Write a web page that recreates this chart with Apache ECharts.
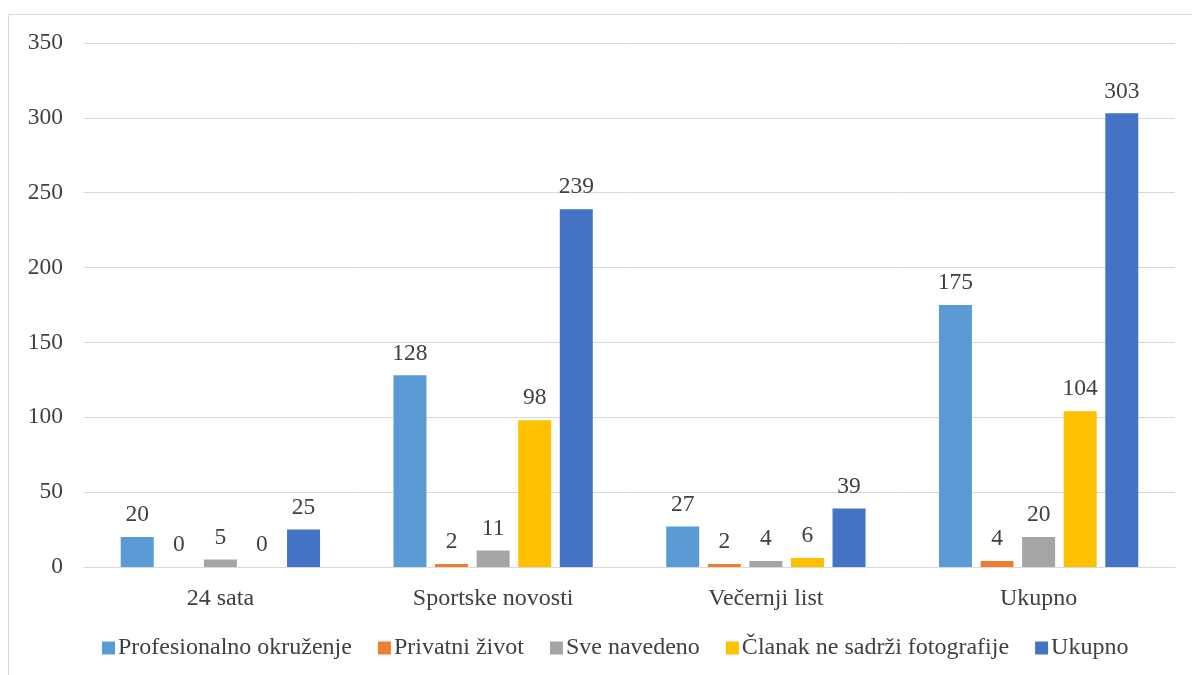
<!DOCTYPE html>
<html><head><meta charset="utf-8">
<script src="https://cdn.jsdelivr.net/npm/echarts@6/dist/echarts.min.js"></script>
<style>html,body{margin:0;padding:0;background:#fff}#c{width:1192px;height:675px}</style>
</head><body><div id="c"></div>
<script>
const categories = ['24 sata', 'Sportske novosti', 'Večernji list', 'Ukupno'];
const seriesNames = ['Profesionalno okruženje', 'Privatni život', 'Sve navedeno', 'Članak ne sadrži fotografije', 'Ukupno'];
const profesionalno = [20, 128, 27, 175];
const privatni = [0, 2, 2, 4];
const sveNavedeno = [5, 11, 4, 20];
const clanak = [0, 98, 6, 104];
const ukupno = [25, 239, 39, 303];
const yTicks = { min: 0, max: 350, interval: 50 };
const colors = ['#5B9BD5', '#ED7D31', '#A5A5A5', '#FFC000', '#4472C4'];
const values = [profesionalno, privatni, sveNavedeno, clanak, ukupno];
const font = '"Liberation Serif", "Times New Roman", serif';
const chart = echarts.init(document.getElementById('c'));
chart.setOption({
  animation: false,
  textStyle: { fontFamily: font },
  graphic: [{ type: 'rect', shape: { x: 8.5, y: 14.5, width: 1300, height: 800 }, style: { fill: 'none', stroke: '#d9d9d9', lineWidth: 1 }, silent: true }],
  grid: { left: 84, right: 17, top: 43, bottom: 108, containLabel: false },
  legend: {
    top: 631, left: 97, itemWidth: 13, itemHeight: 13, itemGap: 26, icon: 'rect',
    textStyle: { fontFamily: font, fontSize: 24, color: '#404040', padding: [0, 0, 0, -2] },
    data: seriesNames
  },
  xAxis: {
    type: 'category', data: categories,
    axisLine: { lineStyle: { color: '#d9d9d9' } }, axisTick: { show: false },
    axisLabel: { fontFamily: font, fontSize: 24, color: '#404040', margin: 20 }
  },
  yAxis: {
    type: 'value', min: yTicks.min, max: yTicks.max, interval: yTicks.interval,
    axisLine: { show: false }, axisTick: { show: false },
    splitLine: { lineStyle: { color: '#d9d9d9' } },
    axisLabel: { fontFamily: font, fontSize: 23.5, color: '#404040', margin: 21 }
  },
  series: seriesNames.map((n, i) => ({
    name: n, type: 'bar', data: values[i], barWidth: 33, barGap: '26%',
    itemStyle: { color: colors[i] },
    label: { show: true, position: 'top', distance: 10, fontFamily: font, fontSize: 23.5, color: '#404040' }
  }))
});
</script></body></html>
